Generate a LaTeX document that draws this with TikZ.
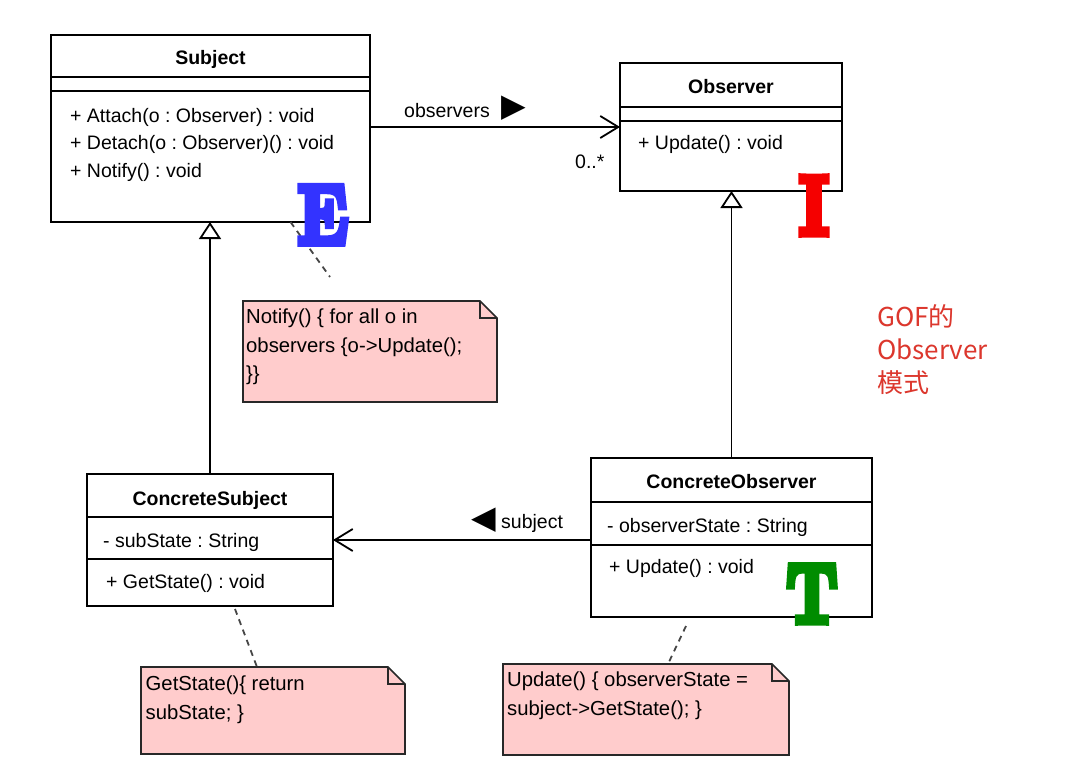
\documentclass[tikz,border=0pt]{standalone}
\usepackage{fontspec}
\usepackage{graphicx}
\usetikzlibrary{arrows.meta}
\newfontfamily\umlfont{Liberation Sans}
\newfontfamily\symfont{DejaVu Sans}
\newfontfamily\cjkfont{Noto Sans CJK SC}
\newfontfamily\fatfont{lmroman10-bold}[Extension=.otf, FakeBold=9]
\definecolor{notepink}{RGB}{255,204,204}
\definecolor{noteedge}{RGB}{40,40,40}
\definecolor{dashgray}{RGB}{70,70,70}
\definecolor{eblue}{RGB}{51,51,255}
\definecolor{ired}{RGB}{245,0,0}
\definecolor{tgreen}{RGB}{0,140,0}
\definecolor{gofred}{RGB}{220,55,45}
\frenchspacing
\begin{document}
\begin{tikzpicture}[x=1pt,y=-1pt,
  classbox/.style={draw=black, line width=2.8pt, outer sep=0pt, inner sep=0pt, fill=white},
  sepline/.style={line width=1.6pt},
  member/.style={font=\umlfont\fontsize{19.5}{24}\selectfont, inner sep=0pt, anchor=base west},
  ctitle/.style={font=\umlfont\bfseries\fontsize{19.5}{24}\selectfont, inner sep=0pt, anchor=base},
  assoc/.style={line width=1.8pt, -{Straight Barb[length=18pt,width=22pt,line width=1.8pt]}},
  gen/.style={line width=1.8pt, -{Triangle[open,length=17pt,width=22pt,fill=white,line width=1.8pt]}},
  notebox/.style={inner sep=0pt, outer sep=0pt},
  noteline/.style={draw=noteedge, line width=1.6pt},
  notetext/.style={font=\umlfont\fontsize{20.3}{28.5}\selectfont, inner sep=0pt, anchor=north west, align=left},
  dashline/.style={draw=dashgray, line width=1.8pt, dash pattern=on 6pt off 5pt},
  bigletter/.style={font=\fatfont\fontsize{83}{83}\selectfont, inner sep=0pt, anchor=base},
  dirtri/.style={inner sep=0pt, font=\symfont\fontsize{32}{32}\selectfont}
]
\useasboundingbox[fill=white] (0,0) rectangle (1084,784);

% ---------- classes ----------
\node[classbox, minimum width=319pt, minimum height=187pt] (subj) at (210.5,128.5) {};
\draw[sepline] (subj.west |- 0,77) -- (subj.east |- 0,77);
\draw[sepline] (subj.west |- 0,91) -- (subj.east |- 0,91);
\node[ctitle] (subjT) at (210.5,65) {Subject};
\node[member] (subjM1) at (70,122) {+ Attach(o : Observer) : void};
\node[member] (subjM2) at (70,149) {+ Detach(o : Observer)() : void};
\node[member] (subjM3) at (70,177) {+ Notify() : void};

\node[classbox, minimum width=222pt, minimum height=128pt] (obs) at (731,127) {};
\draw[sepline] (obs.west |- 0,107) -- (obs.east |- 0,107);
\draw[sepline] (obs.west |- 0,121) -- (obs.east |- 0,121);
\node[ctitle] (obsT) at (731,93) {Observer};
\node[member] (obsM1) at (638,149) {+ Update() : void};

\node[classbox, minimum width=246pt, minimum height=132pt] (csubj) at (210,540) {};
\draw[sepline] (csubj.west |- 0,517) -- (csubj.east |- 0,517);
\draw[sepline] (csubj.west |- 0,559) -- (csubj.east |- 0,559);
\node[ctitle] (csubjT) at (210,505) {ConcreteSubject};
\node[member] (csubjA1) at (103,547) {- subState : String};
\node[member] (csubjM1) at (106,588) {+ GetState() : void};

\node[classbox, minimum width=281pt, minimum height=159pt] (cobs) at (731.5,537.5) {};
\draw[sepline] (cobs.west |- 0,502) -- (cobs.east |- 0,502);
\draw[sepline] (cobs.west |- 0,545) -- (cobs.east |- 0,545);
\node[ctitle] (cobsT) at (731.5,488) {ConcreteObserver};
\node[member] (cobsA1) at (607,532) {- observerState : String};
\node[member] (cobsM1) at (609,573) {+ Update() : void};

% ---------- relations ----------
\draw[assoc] (subj.east |- obs.west) -- (obs.west);
\node[member] (lblObs) at (404,117) {observers};
\node[dirtri] (lblObsTri) at (514,108) {▶};
\node[member] (mult) at (575,168) {0..*};

\draw[gen] (csubj.north) -- (csubj.north |- subj.south);
\draw[gen] (cobs.north) -- (cobs.north |- obs.south);

\draw[assoc] (cobs.west |- csubj.east) -- (csubj.east);
\node[dirtri] (lblSubTri) at (484,520) {◀};
\node[member] (lblSub) at (501,528) {subject};

% ---------- notes ----------
\newcommand\drawnote[1]{%
  \draw[noteline, fill=notepink] (#1.north west) -- ([xshift=-17pt]#1.north east)
    -- ([yshift=-17pt]#1.north east) -- (#1.south east) -- (#1.south west) -- cycle;
  \draw[noteline] ([xshift=-17pt]#1.north east) -- ([xshift=-17pt,yshift=-17pt]#1.north east)
    -- ([yshift=-17pt]#1.north east);}

\node[notebox, minimum width=254pt, minimum height=101pt] (note1) at (370,351.5) {};
\drawnote{note1}
\node[notetext] (note1T) at (246,309) {Notify() \{ for all o in\\observers \{o->Update();\\\}\}};

\node[notebox, minimum width=264pt, minimum height=87pt] (note2) at (273,710.5) {};
\drawnote{note2}
\node[notetext] (note2T) at (145.5,676) {GetState()\{ return\\subState; \}};

\node[notebox, minimum width=286pt, minimum height=91pt] (note3) at (646,709.5) {};
\drawnote{note3}
\node[notetext] (note3T) at (507,672) {Update() \{ observerState =\\subject->GetState(); \}};

\coordinate (n1free) at (330,277);
\draw[dashline] ([xshift=80pt]subj.south) -- (n1free);
\draw[dashline] ([xshift=25pt,yshift=-3pt]csubj.south) -- ([xshift=-16pt]note2.north);
\coordinate (n3free) at (686,626);
\draw[dashline] (n3free) -- ([xshift=22pt]note3.north);

% ---------- side text ----------
\node[inner sep=0pt, anchor=north west, align=left, text=gofred,
      font=\cjkfont\fontsize{26}{33}\selectfont] (gof) at (877,304) {GOF的\\Observer\\模式};

% ---------- big letters ----------
\node[bigletter, text=eblue] (letE) at (323,243) {\scalebox{0.8}[1]{E}};
\node[bigletter, text=ired] (letI) at (814,234) {\scalebox{0.82}[1]{I}};
\node[bigletter, text=tgreen] (letT) at (812,622) {\scalebox{0.77}[1]{T}};
\end{tikzpicture}
\end{document}
